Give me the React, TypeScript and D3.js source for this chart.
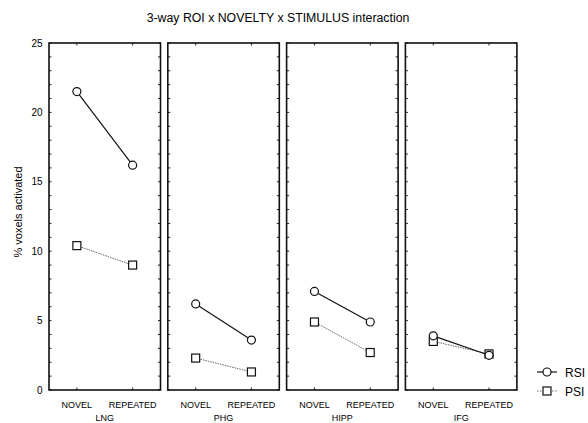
import React, { useEffect, useRef } from "react";
import * as d3 from "d3";

const title = "3-way ROI x NOVELTY x STIMULUS interaction";
const yLabel = "% voxels activated";
const rois = ["LNG", "PHG", "HIPP", "IFG"];
const novelty = ["NOVEL", "REPEATED"];
const yTicks = [0, 5, 10, 15, 20, 25];

// values per ROI, [NOVEL, REPEATED]
const rsiValues = [
  [21.5, 16.2],
  [6.2, 3.6],
  [7.1, 4.9],
  [3.9, 2.5],
];
const psiValues = [
  [10.4, 9.0],
  [2.3, 1.3],
  [4.9, 2.7],
  [3.5, 2.6],
];
const seriesNames = ["RSI", "PSI"];

const width = 588;
const height = 423;

const App = () => {
  const svgRef = useRef<SVGSVGElement>(null);

  useEffect(() => {
    const svg = d3.select(svgRef.current);
    svg.selectAll("*").remove();
    const font = "'Liberation Sans', Arial, sans-serif";

    const left = 49;
    const top = 43;
    const bottom = 390;
    const panelW = 111.5;
    const gap = 7.3;

    // panel positions
    const panelX = d3
      .scaleBand()
      .domain(rois)
      .range([left, left + 4 * panelW + 3 * gap])
      .paddingInner(gap / (panelW + gap));

    const yScale = d3.scaleLinear().domain([0, 25]).range([bottom, top]);

    svg
      .append("text")
      .attr("x", 278)
      .attr("y", 22)
      .attr("text-anchor", "middle")
      .style("font-family", font)
      .style("font-size", "12.3px")
      .text(title);

    svg
      .append("text")
      .attr("transform", "rotate(-90)")
      .attr("x", -212)
      .attr("y", 22)
      .attr("text-anchor", "middle")
      .style("font-family", font)
      .style("font-size", "11px")
      .text(yLabel);

    // y tick labels on first panel
    svg
      .append("g")
      .selectAll("text")
      .data(yTicks)
      .enter()
      .append("text")
      .attr("x", 42.5)
      .attr("y", (d) => yScale(d) + 3.5)
      .attr("text-anchor", "end")
      .style("font-family", font)
      .style("font-size", "10px")
      .text((d) => d);

    const minor = d3.range(0, 26);

    rois.forEach((roi, i) => {
      const x0 = panelX(roi)!;
      const w = panelX.bandwidth();
      const g = svg.append("g").attr("transform", `translate(${x0},0)`);
      const xScale = d3.scalePoint().domain(novelty).range([0, w]).padding(0.5);

      // y ticks inside, left and right
      g.selectAll(".tl")
        .data(minor)
        .enter()
        .append("line")
        .attr("x1", 0)
        .attr("x2", 2.5)
        .attr("y1", (d) => yScale(d))
        .attr("y2", (d) => yScale(d))
        .attr("stroke", "#222")
        .attr("stroke-width", 1);
      g.selectAll(".tr")
        .data(minor)
        .enter()
        .append("line")
        .attr("x1", w)
        .attr("x2", w - 2.5)
        .attr("y1", (d) => yScale(d))
        .attr("y2", (d) => yScale(d))
        .attr("stroke", "#222")
        .attr("stroke-width", 1);

      // x ticks top and bottom
      novelty.forEach((n) => {
        const cx = xScale(n)!;
        g.append("line")
          .attr("x1", cx)
          .attr("x2", cx)
          .attr("y1", top)
          .attr("y2", top + 2.5)
          .attr("stroke", "#222");
        g.append("line")
          .attr("x1", cx)
          .attr("x2", cx)
          .attr("y1", bottom)
          .attr("y2", bottom - 2.5)
          .attr("stroke", "#222");
        g.append("text")
          .attr("x", cx)
          .attr("y", 408)
          .attr("text-anchor", "middle")
          .style("font-family", font)
          .style("font-size", "9px")
          .text(n);
      });

      g.append("text")
        .attr("x", w / 2)
        .attr("y", 421)
        .attr("text-anchor", "middle")
        .style("font-family", font)
        .style("font-size", "9px")
        .text(roi);

      g.append("rect")
        .attr("x", 0)
        .attr("y", top)
        .attr("width", w)
        .attr("height", bottom - top)
        .attr("fill", "none")
        .attr("stroke", "#111")
        .attr("stroke-width", 1.6);

      const line = d3
        .line<number>()
        .x((d, j) => xScale(novelty[j])!)
        .y((d) => yScale(d));

      // PSI
      g.append("path")
        .attr("d", line(psiValues[i]))
        .attr("fill", "none")
        .attr("stroke", "#555")
        .attr("stroke-width", 0.9)
        .attr("stroke-dasharray", "1.5,1");
      g.selectAll(".sq")
        .data(psiValues[i])
        .enter()
        .append("rect")
        .attr("x", (d, j) => xScale(novelty[j])! - 4)
        .attr("y", (d) => yScale(d) - 4)
        .attr("width", 8)
        .attr("height", 8)
        .attr("fill", "white")
        .attr("stroke", "#111")
        .attr("stroke-width", 1.2);

      // RSI
      g.append("path")
        .attr("d", line(rsiValues[i]))
        .attr("fill", "none")
        .attr("stroke", "#111")
        .attr("stroke-width", 1.2);
      g.selectAll(".ci")
        .data(rsiValues[i])
        .enter()
        .append("circle")
        .attr("cx", (d, j) => xScale(novelty[j])!)
        .attr("cy", (d) => yScale(d))
        .attr("r", 4)
        .attr("fill", "white")
        .attr("stroke", "#111")
        .attr("stroke-width", 1.2);
    });

    // legend
    const lg = svg.append("g");
    seriesNames.forEach((name, i) => {
      const ly = 372 + i * 19;
      lg.append("line")
        .attr("x1", 537)
        .attr("x2", 557)
        .attr("y1", ly)
        .attr("y2", ly)
        .attr("stroke", i === 0 ? "#111" : "#555")
        .attr("stroke-width", i === 0 ? 1.2 : 0.9)
        .attr("stroke-dasharray", i === 0 ? null : "1.5,1.5");
      if (i === 0) {
        lg.append("circle")
          .attr("cx", 547)
          .attr("cy", ly)
          .attr("r", 4)
          .attr("fill", "white")
          .attr("stroke", "#111")
          .attr("stroke-width", 1.2);
      } else {
        lg.append("rect")
          .attr("x", 543)
          .attr("y", ly - 4)
          .attr("width", 8)
          .attr("height", 8)
          .attr("fill", "white")
          .attr("stroke", "#111")
          .attr("stroke-width", 1.2);
      }
      lg.append("text")
        .attr("x", 565)
        .attr("y", ly + 4.5)
        .style("font-family", font)
        .style("font-size", "12px")
        .text(name);
    });
  }, []);

  return (
    <svg
      ref={svgRef}
      width={width}
      height={height}
      style={{ position: "absolute", left: 0, top: 0, background: "white" }}
    />
  );
};

export default App;
